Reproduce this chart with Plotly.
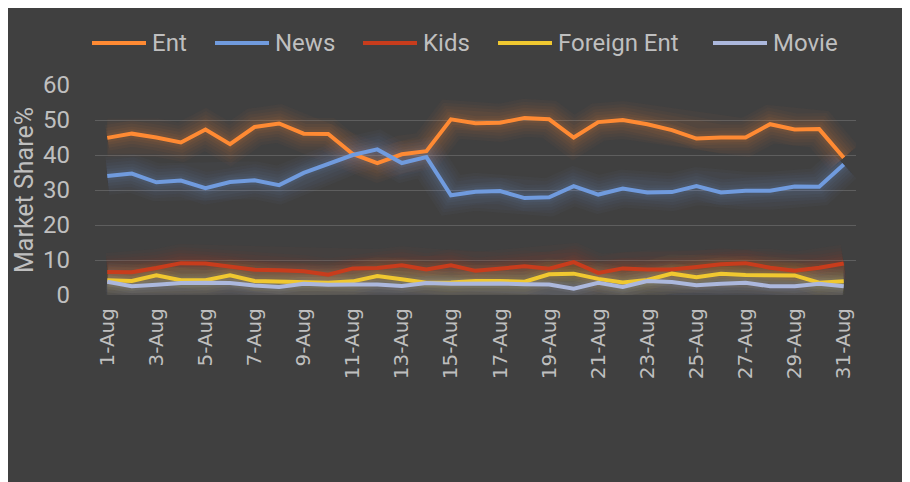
import plotly.graph_objects as go

days = [f"{d}-Aug" for d in range(1, 32)]
tick_labels = days[::2]

ent = [44.9, 46.1, 45.0, 43.6, 47.3, 43.1, 48.0, 49.0, 46.1, 46.0,
       40.3, 37.7, 40.2, 41.1, 50.2, 49.1, 49.2, 50.6, 50.2, 45.0,
       49.4, 50.0, 48.8, 47.1, 44.7, 45.0, 45.0, 48.8, 47.3, 47.4, 39.2]
news = [34.0, 34.7, 32.2, 32.7, 30.5, 32.3, 32.8, 31.4, 34.9, 37.5,
        40.0, 41.6, 37.7, 39.4, 28.5, 29.5, 29.7, 27.7, 27.9, 31.1,
        28.7, 30.4, 29.3, 29.4, 31.1, 29.3, 29.8, 29.8, 31.0, 30.9, 37.3]
kids = [6.6, 6.5, 7.7, 9.1, 9.0, 8.2, 7.2, 7.1, 6.8, 5.8,
        7.6, 7.7, 8.5, 7.3, 8.5, 6.9, 7.5, 8.2, 7.5, 9.4,
        6.3, 7.6, 7.3, 7.3, 8.0, 8.8, 9.1, 7.8, 6.9, 7.8, 9.0]
foreign_ent = [4.2, 4.0, 5.6, 4.2, 4.2, 5.6, 4.0, 3.9, 3.7, 3.5,
               3.9, 5.4, 4.5, 3.5, 3.6, 4.0, 4.0, 3.8, 5.9, 6.1,
               4.6, 3.6, 4.3, 6.1, 5.1, 6.1, 5.7, 5.6, 5.6, 3.5, 3.9]
movie = [3.8, 2.5, 2.9, 3.4, 3.5, 3.4, 2.7, 2.3, 3.2, 2.9,
         3.0, 3.0, 2.6, 3.4, 3.2, 3.3, 3.3, 3.1, 3.0, 1.8,
         3.5, 2.3, 4.0, 3.7, 2.8, 3.2, 3.5, 2.5, 2.5, 3.2, 2.5]

series_names = ["Ent", "News", "Kids", "Foreign Ent", "Movie"]
series_values = [ent, news, kids, foreign_ent, movie]
series_rgb = [(255, 138, 51), (112, 155, 222), (200, 60, 28),
              (240, 200, 48), (172, 184, 221)]

# layout constants (pixels, figure coordinates)
W, H = 910, 482
L, R, T, B = 87, 62, 77, 195
pw, ph = W - L - R, H - T - B
legend_line_x = [84, 207, 355, 490, 705]   # left end of each legend swatch
legend_y = 35
swatch_len = 54


def px_x(p):
    return (p - L) / pw


def px_y(q):
    return (H - B - q) / ph


fig = go.Figure()

# soft glow under each line
glow_layers = [(38, 0.03), (32, 0.035), (26, 0.04), (20, 0.05), (14, 0.06), (9, 0.07)]
for name, vals, (r, g, b) in zip(series_names, series_values, series_rgb):
    for w, a in glow_layers:
        fig.add_trace(go.Scatter(
            x=days, y=vals, mode="lines",
            line=dict(color=f"rgba({r},{g},{b},{a})", width=w),
            showlegend=False, hoverinfo="skip"))

for name, vals, (r, g, b) in zip(series_names, series_values, series_rgb):
    fig.add_trace(go.Scatter(
        x=days, y=vals, mode="lines", name=name, showlegend=False,
        line=dict(color=f"rgb({r},{g},{b})", width=4)))

txt = "#bfbfbf"

# legend drawn as swatches + text
shapes, annots = [], []
for name, (r, g, b), lx in zip(series_names, series_rgb, legend_line_x):
    shapes.append(dict(type="line", xref="paper", yref="paper",
                       x0=px_x(lx), x1=px_x(lx + swatch_len),
                       y0=px_y(legend_y), y1=px_y(legend_y),
                       line=dict(color=f"rgb({r},{g},{b})", width=4)))
    annots.append(dict(text=name, xref="paper", yref="paper",
                       x=px_x(lx + swatch_len + 4), y=px_y(legend_y),
                       xanchor="left", yanchor="middle", showarrow=False,
                       font=dict(family="Roboto", size=24, color=txt)))

fig.update_layout(
    width=W, height=H,
    margin=dict(l=L, r=R, t=T, b=B),
    paper_bgcolor="#404040",
    plot_bgcolor="#404040",
    font=dict(family="Roboto, sans-serif", color=txt),
    showlegend=False,
    shapes=shapes,
    annotations=annots,
    xaxis=dict(
        type="category", tickmode="array", tickvals=tick_labels, ticktext=tick_labels,
        tickangle=-90, tickfont=dict(family="DejaVu Sans", size=20, color=txt),
        showgrid=False, zeroline=False, showline=False, ticks="",
        ticklabelstandoff=8, range=[-0.5, 30.5]),
    yaxis=dict(
        range=[0, 60], dtick=10, tickfont=dict(size=24, color=txt),
        gridcolor="#5e5e5e", gridwidth=1.3, zeroline=False, showline=False,
        ticklabelstandoff=24,
        title=dict(text="Market Share%", font=dict(size=25, color=txt), standoff=2)),
)

fig.write_html("out.html")
